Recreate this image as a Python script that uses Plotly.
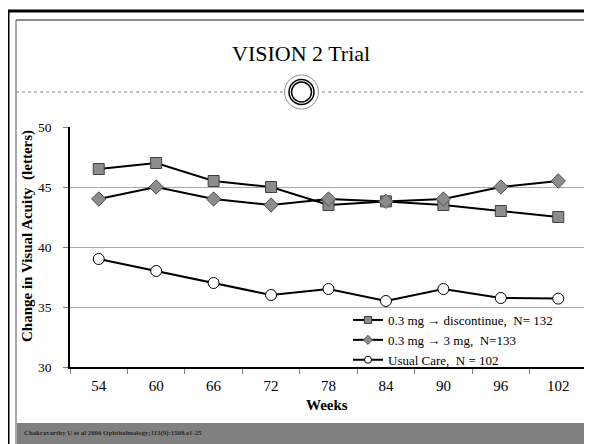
import plotly.graph_objects as go

weeks = ["54", "60", "66", "72", "78", "84", "90", "96", "102"]
discontinue = [46.5, 47.0, 45.5, 45.0, 43.5, 43.8, 43.5, 43.0, 42.5]
to_3mg = [44.0, 45.0, 44.0, 43.5, 44.0, 43.8, 44.0, 45.0, 45.5]
usual_care = [39.0, 38.0, 37.0, 36.0, 36.5, 35.5, 36.5, 35.75, 35.7]
series_names = ["0.3 mg \u2192 discontinue,  N= 132", "0.3 mg \u2192 3 mg,  N=133", "Usual Care,  N = 102"]

# The page has an 8px body margin, so the figure is drawn 8px smaller and
# reference coordinates are shifted by O.
O = 8
W, H = 592 - O, 444 - O
L, R, T, B = 70 - O, 5, 127 - O, 77
PW, PH = W - L - R, H - T - B
FONT = "Liberation Serif"


def px(x):
    return (x - O - L) / PW


def py(y):
    return (H - B - (y - O)) / PH


fig = go.Figure()
styles = [
    dict(symbol="square", color="#8c8c8c", line=dict(color="#404040", width=1)),
    dict(symbol="diamond", color="#8c8c8c", line=dict(color="#505050", width=1)),
    dict(symbol="circle", color="white", line=dict(color="black", width=1)),
]
values = [discontinue, to_3mg, usual_care]
for name, vals, st in zip(series_names, values, styles):
    fig.add_trace(go.Scatter(x=weeks, y=vals, name=name, mode="lines+markers", showlegend=False,
                             line=dict(color="black", width=2), marker=dict(size=11, **st)))
for name, st in zip(series_names, styles):
    fig.add_trace(go.Scatter(x=[None], y=[None], name=name, mode="lines+markers", showlegend=True,
                             line=dict(color="black", width=2), marker=dict(size=7, **st)))

shapes = []
# outer black frame
shapes.append(dict(type="line", xref="paper", yref="paper", x0=px(8), x1=px(8), y0=py(10), y1=py(450),
                   line=dict(color="black", width=3)))
shapes.append(dict(type="line", xref="paper", yref="paper", x0=px(7), x1=px(600), y0=py(11), y1=py(11),
                   line=dict(color="black", width=3)))
# footer band
shapes.append(dict(type="rect", xref="paper", yref="paper", x0=px(16), x1=px(587), y0=py(423), y1=py(450),
                   fillcolor="#808080", line=dict(width=0), layer="below"))
# inner frame
shapes.append(dict(type="line", xref="paper", yref="paper", x0=px(16), x1=px(16), y0=py(20), y1=py(450),
                   line=dict(color="#a8a8a8", width=2)))
shapes.append(dict(type="line", xref="paper", yref="paper", x0=px(16), x1=px(587), y0=py(20), y1=py(20),
                   line=dict(color="#606060", width=1.5)))
shapes.append(dict(type="line", xref="paper", yref="paper", x0=px(587), x1=px(587), y0=py(20), y1=py(450),
                   line=dict(color="#909090", width=1.5)))
# dotted separator
shapes.append(dict(type="line", xref="paper", yref="paper", x0=px(16), x1=px(587), y0=py(92), y1=py(92),
                   line=dict(color="#808080", width=1, dash="dot")))
# circle ornament
cx, cy = 301.5, 92
for r, col, w in [(17, "#909090", 1), (12.5, "black", 1.5), (10, "black", 1.5)]:
    shapes.append(dict(type="circle", xref="paper", yref="paper",
                       x0=px(cx - r), x1=px(cx + r), y0=py(cy + r), y1=py(cy - r),
                       fillcolor="white", line=dict(color=col, width=w)))

annotations = [
    dict(text="VISION 2 Trial", xref="paper", yref="paper", x=px(301), y=py(53), showarrow=False,
         font=dict(family=FONT, size=22, color="black"), xanchor="center", yanchor="middle"),
    dict(text="<b>Change in Visual Acuity  (letters)</b>", xref="paper", yref="paper", x=px(27), y=py(236),
         showarrow=False, textangle=-90, font=dict(family=FONT, size=15, color="black"),
         xanchor="center", yanchor="middle"),
    dict(text="<b>Weeks</b>", xref="paper", yref="paper", x=px(327), y=py(405), showarrow=False,
         font=dict(family=FONT, size=15, color="black"), xanchor="center", yanchor="middle"),
    dict(text="<b>Chakravarthy U et al 2006 Ophthalmology;113(9):1508.e1-25</b>", xref="paper", yref="paper",
         x=px(22), y=py(433), showarrow=False, font=dict(family=FONT, size=6.8, color="#2a2a2a"),
         xanchor="left", yanchor="middle"),
]

fig.update_layout(
    width=W, height=H,
    margin=dict(l=L, r=R, t=T, b=B),
    paper_bgcolor="white", plot_bgcolor="white",
    font=dict(family=FONT, size=14, color="black"),
    shapes=shapes, annotations=annotations,
    legend=dict(x=px(348), y=py(305), xanchor="left", yanchor="top",
                bgcolor="rgba(0,0,0,0)", font=dict(family=FONT, size=13, color="black"),
                itemwidth=30, tracegroupgap=0),
    showlegend=True,
)
fig.update_xaxes(type="category", range=[-0.5, 8.5], showline=True, linecolor="black", linewidth=1.5,
                 ticks="outside", tickson="boundaries", ticklen=5, tickcolor="#808080",
                 showgrid=False, tickfont=dict(family=FONT, size=15), ticklabelstandoff=4)
fig.update_yaxes(range=[30, 50], dtick=5, showline=True, linecolor="black", linewidth=1.5,
                 ticks="outside", ticklen=5, tickcolor="#808080", showgrid=True, gridcolor="#a8a8a8",
                 gridwidth=1, zeroline=False, tickfont=dict(family=FONT, size=13.5), ticklabelstandoff=9)

fig.write_html("out.html", config={"displayModeBar": False})
